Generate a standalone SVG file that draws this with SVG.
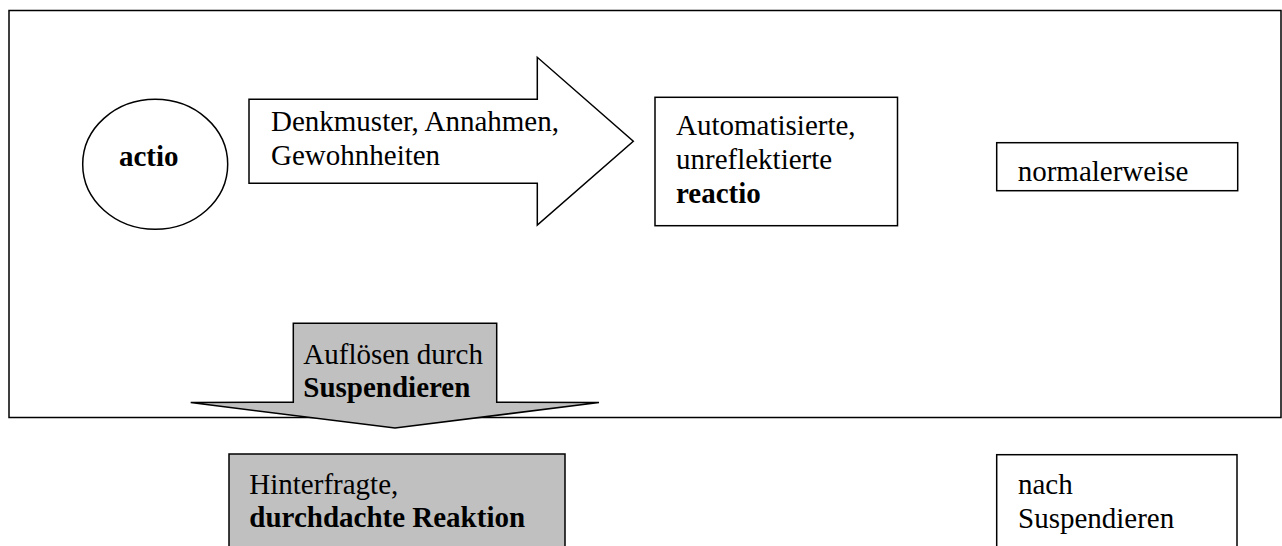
<svg xmlns="http://www.w3.org/2000/svg" width="1282" height="546" viewBox="0 0 1282 546">
<style>
.shape{fill:#fff;stroke:#000;stroke-width:1.5}
.gray{fill:#c0c0c0;stroke:#000;stroke-width:1.5}
.t{font-family:"Liberation Serif","Times New Roman",serif;font-size:29px;fill:#000}
.b{font-weight:bold}
</style>
<rect width="1282" height="546" fill="#fff"/>
<g id="frame"><rect class="shape" x="9" y="10.5" width="1272" height="407" fill="none"/></g>
<g id="actio">
<ellipse class="shape" cx="155.2" cy="164.3" rx="72.5" ry="65"/>
<text class="t b" x="119" y="166">actio</text>
</g>
<g id="connectors">
<g id="arrow-denkmuster">
<polygon class="shape" points="249,99.3 537.3,99.3 537.3,57.3 633.3,141.2 537.3,225 537.3,183.3 249,183.3"/>
<text class="t" x="271" y="131">Denkmuster, Annahmen,</text>
<text class="t" x="271" y="165">Gewohnheiten</text>
</g>
<g id="arrow-suspendieren">
<polygon class="gray" points="293.3,323.3 496.7,323.3 496.7,402.2 599,402.5 395,428 190.7,402.5 293.3,402.2"/>
<text class="t" x="303.3" y="363.5">Auflösen durch</text>
<text class="t b" x="303.3" y="397.3">Suspendieren</text>
</g>
</g>
<g id="reactio">
<rect class="shape" x="655" y="97.3" width="242.5" height="128.4"/>
<text class="t" x="676" y="135">Automatisierte,</text>
<text class="t" x="676" y="168.5">unreflektierte</text>
<text class="t b" x="676" y="202.5">reactio</text>
</g>
<g id="normalerweise">
<rect class="shape" x="996.7" y="142.7" width="241" height="48"/>
<text class="t" x="1017.7" y="181">normalerweise</text>
</g>
<g id="reaktion">
<rect class="gray" x="229" y="454" width="336" height="100"/>
<text class="t" x="249.3" y="494">Hinterfragte,</text>
<text class="t b" x="249.3" y="527">durchdachte Reaktion</text>
</g>
<g id="nach-suspendieren">
<rect class="shape" x="996.7" y="454.7" width="240.3" height="100"/>
<text class="t" x="1018" y="493.5">nach</text>
<text class="t" x="1018" y="528">Suspendieren</text>
</g>
</svg>
